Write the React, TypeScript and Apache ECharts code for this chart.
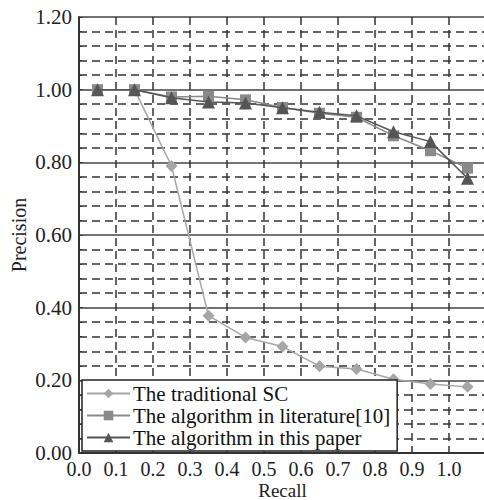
import React, { useEffect, useRef } from "react";
import * as echarts from "echarts";

const recall = [0.05, 0.15, 0.25, 0.35, 0.45, 0.55, 0.65, 0.75, 0.85, 0.95, 1.05];
const traditionalSC = [1.0, 1.0, 0.79, 0.378, 0.318, 0.293, 0.239, 0.231, 0.203, 0.19, 0.182];
const literature10 = [1.0, 1.0, 0.98, 0.982, 0.972, 0.951, 0.935, 0.924, 0.873, 0.832, 0.784];
const thisPaper = [1.0, 1.0, 0.978, 0.966, 0.963, 0.95, 0.938, 0.928, 0.884, 0.857, 0.756];
const seriesNames = [
  "The traditional SC",
  "The algorithm in literature[10]",
  "The algorithm in this paper",
];

const FONT = "Liberation Serif";

function pairs(ys: number[]) {
  return recall.map((x, i) => [x, ys[i]]);
}

export default function App() {
  const ref = useRef<HTMLDivElement>(null);
  useEffect(() => {
    if (!ref.current) return;
    const chart = echarts.init(ref.current, null, { renderer: "svg" });
    chart.setOption({
      animation: false,
      backgroundColor: "#fff",
      textStyle: { fontFamily: FONT },
      grid: {
        left: 79,
        top: 17,
        right: -2,
        bottom: 47,
        containLabel: false,
        outerBoundsMode: "none",
      },
      legend: {
        orient: "vertical",
        left: 82,
        top: 380,
        itemWidth: 43,
        itemHeight: 12,
        itemGap: 1,
        padding: [3, 7, 3, 4],
        backgroundColor: "#fff",
        borderColor: "#222",
        borderWidth: 1.5,
        borderRadius: 0,
        textStyle: { fontFamily: FONT, fontSize: 21, color: "#111", padding: [0, 0, 0, -2] },
        data: seriesNames,
      },
      xAxis: {
        type: "value",
        min: 0,
        max: 1.1,
        interval: 0.1,
        name: "Recall",
        nameLocation: "middle",
        nameGap: 28,
        nameMoveOverlap: false,
        nameTextStyle: { fontFamily: FONT, fontSize: 19, color: "#222" },
        axisLine: { show: true, lineStyle: { color: "#333", width: 2 } },
        axisTick: { show: false },
        axisLabel: {
          fontFamily: FONT,
          fontSize: 20,
          color: "#222",
          margin: 6,
          showMaxLabel: false,
          formatter: (v: number) => v.toFixed(1),
        },
        splitLine: { show: true, lineStyle: { color: "#333", width: 1.5, type: [8, 5] } },
      },
      yAxis: {
        type: "value",
        min: 0,
        max: 1.2,
        interval: 0.2,
        name: "Precision",
        nameLocation: "middle",
        nameGap: 50,
        nameMoveOverlap: false,
        nameTextStyle: { fontFamily: FONT, fontSize: 20, color: "#222" },
        axisLine: { show: true, lineStyle: { color: "#333", width: 2 } },
        axisTick: { show: true, inside: true, length: 4, lineStyle: { color: "#333" } },
        minorTick: { show: true, splitNumber: 5, length: 3, lineStyle: { color: "#333" } },
        axisLabel: {
          fontFamily: FONT,
          fontSize: 21,
          color: "#222",
          margin: 7,
          formatter: (v: number) => v.toFixed(2),
        },
        splitLine: { show: true, lineStyle: { color: "#444", width: 1.5 } },
        minorSplitLine: { show: true, lineStyle: { color: "#333", width: 1.5, type: [8, 5] } },
      },
      series: [
        {
          name: seriesNames[0],
          type: "line",
          data: pairs(traditionalSC),
          symbol: "diamond",
          symbolSize: 12,
          itemStyle: { color: "#a6a6a6" },
          lineStyle: { color: "#a6a6a6", width: 1.5 },
          z: 2,
        },
        {
          name: seriesNames[1],
          type: "line",
          data: pairs(literature10),
          symbol: "rect",
          symbolSize: 11,
          itemStyle: { color: "#8a8a8a" },
          lineStyle: { color: "#8a8a8a", width: 1.5 },
          z: 3,
        },
        {
          name: seriesNames[2],
          type: "line",
          data: pairs(thisPaper),
          symbol: "triangle",
          symbolSize: 13,
          itemStyle: { color: "#555" },
          lineStyle: { color: "#555", width: 1.5 },
          z: 4,
        },
      ],
    });
    return () => chart.dispose();
  }, []);
  return <div ref={ref} style={{ width: 484, height: 500, position: "absolute", left: 0, top: 0 }} />;
}
